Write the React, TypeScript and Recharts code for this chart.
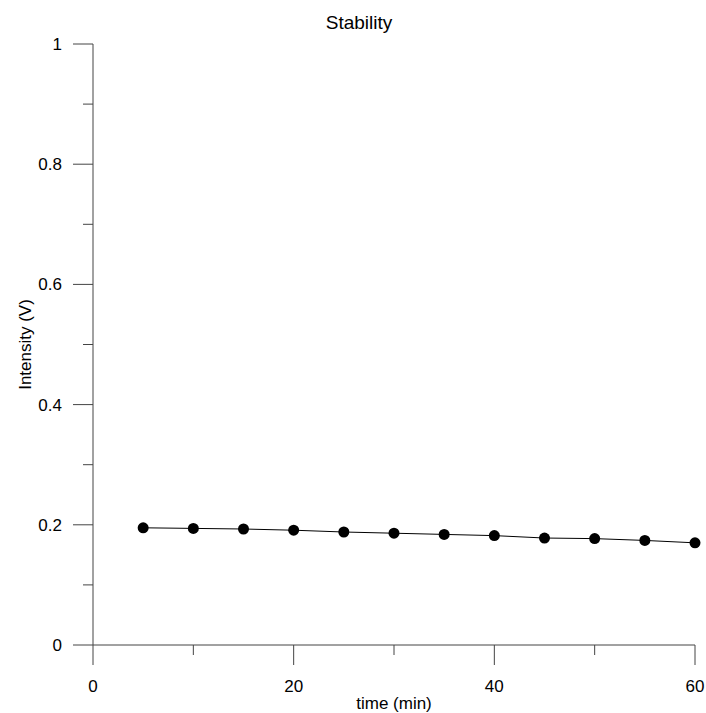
import React from 'react';
import { LineChart, Line, XAxis, YAxis, Label, Customized } from 'recharts';

// time (min)
const times = [5, 10, 15, 20, 25, 30, 35, 40, 45, 50, 55, 60];
// Intensity (V)
const intensity = [0.195, 0.194, 0.193, 0.191, 0.188, 0.186, 0.184, 0.182, 0.178, 0.177, 0.174, 0.17];

const xTicks = [0, 10, 20, 30, 40, 50, 60];
const yTicks = [0, 0.1, 0.2, 0.3, 0.4, 0.5, 0.6, 0.7, 0.8, 0.9, 1];
const yLabels: Record<string, string> = { '0': '0', '0.2': '0.2', '0.4': '0.4', '0.6': '0.6', '0.8': '0.8', '1': '1' };

const data = times.map((t, i) => ({ t, v: intensity[i] }));

const FONT = '"Liberation Sans", Arial, sans-serif';
const AXIS = '#444';

function XTick(props: any) {
  const { x, y, payload } = props;
  const major = payload.value % 20 === 0;
  return (
    <g>
      <line x1={x} x2={x} y1={y} y2={y + (major ? 20 : 10)} stroke={AXIS} />
      {major && (
        <text x={x} y={y + 47} textAnchor="middle" fontSize={17} fontFamily={FONT} fill="#000">
          {payload.value}
        </text>
      )}
    </g>
  );
}

function YTick(props: any) {
  const { x, y, payload } = props;
  const label = yLabels[String(payload.value)];
  const major = label !== undefined;
  return (
    <g>
      <line x1={x - (major ? 20 : 10)} x2={x} y1={y} y2={y} stroke={AXIS} />
      {major && (
        <text x={x - 31} y={y + 6} textAnchor="end" fontSize={17} fontFamily={FONT} fill="#000">
          {label}
        </text>
      )}
    </g>
  );
}

export default function App() {
  return (
    <div style={{ position: 'absolute', left: 0, top: 0, width: 706, height: 713, background: '#fff' }}>
      <LineChart width={706} height={713} data={data} margin={{ top: 44, right: 11, bottom: 0, left: 0 }}>
        <XAxis
          dataKey="t"
          type="number"
          domain={[0, 60]}
          ticks={xTicks}
          height={68}
          tickSize={0}
          tickMargin={0}
          tickLine={false}
          axisLine={{ stroke: AXIS }}
          tick={<XTick />}
        >
          <Label
            content={({ viewBox }: any) => (
              <text x={viewBox.x + viewBox.width / 2} y={viewBox.y + 64} textAnchor="middle" fontSize={17} fontFamily={FONT} fill="#000">
                time (min)
              </text>
            )}
          />
        </XAxis>
        <YAxis
          type="number"
          domain={[0, 1]}
          ticks={yTicks}
          width={93}
          tickSize={0}
          tickMargin={0}
          tickLine={false}
          axisLine={{ stroke: AXIS }}
          tick={<YTick />}
        >
          <Label
            content={({ viewBox }: any) => {
              const cx = 31;
              const cy = viewBox.y + viewBox.height / 2;
              return (
                <text x={cx} y={cy} transform={`rotate(-90 ${cx} ${cy})`} textAnchor="middle" fontSize={17} fontFamily={FONT} fill="#000">
                  Intensity (V)
                </text>
              );
            }}
          />
        </YAxis>
        <Line
          dataKey="v"
          stroke="#000"
          strokeWidth={1}
          dot={{ r: 5.5, fill: '#000', stroke: '#000', strokeWidth: 0 }}
          isAnimationActive={false}
        />
        <Customized
          component={() => (
            <text x={359} y={29} textAnchor="middle" fontSize={19} fontFamily={FONT} fill="#000">
              Stability
            </text>
          )}
        />
      </LineChart>
    </div>
  );
}
